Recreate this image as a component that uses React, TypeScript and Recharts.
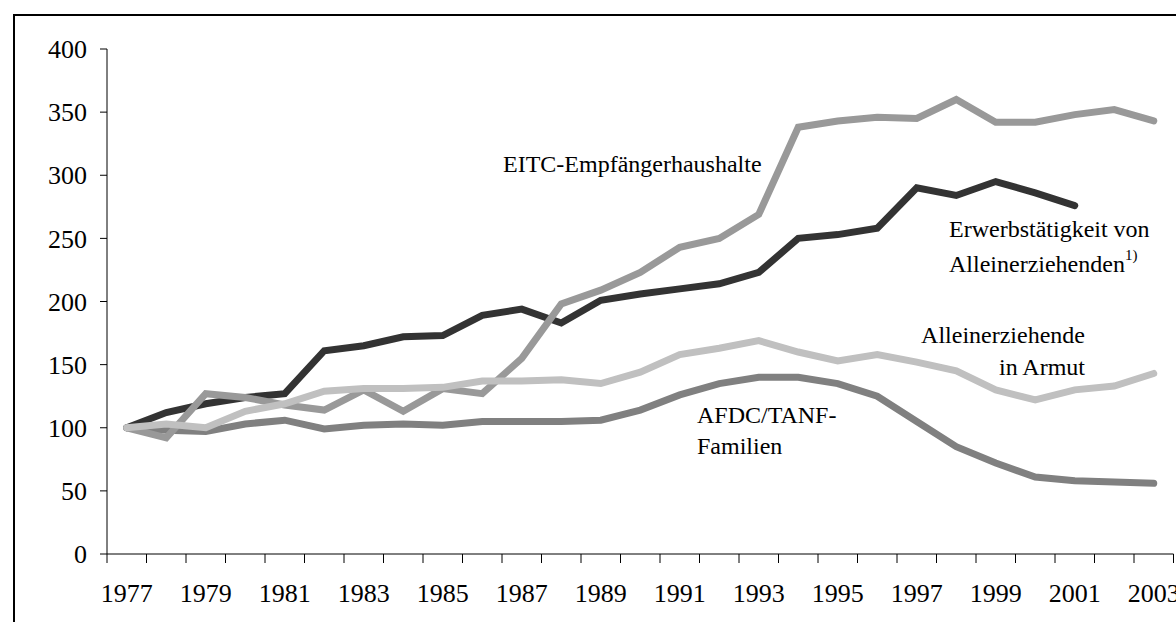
import React from 'react';
import { LineChart, Line, XAxis, YAxis } from 'recharts';

const years = [1977, 1978, 1979, 1980, 1981, 1982, 1983, 1984, 1985, 1986, 1987, 1988, 1989, 1990, 1991, 1992, 1993, 1994, 1995, 1996, 1997, 1998, 1999, 2000, 2001, 2002, 2003];
const eitc = [100, 92, 127, 124, 118, 114, 130, 113, 131, 127, 155, 198, 209, 223, 243, 250, 269, 338, 343, 346, 345, 360, 342, 342, 348, 352, 343];
const erwerb: (number | null)[] = [100, 112, 119, 124, 127, 161, 165, 172, 173, 189, 194, 183, 201, 206, 210, 214, 223, 250, 253, 258, 290, 284, 295, 286, 276, null, null];
const armut = [100, 103, 100, 113, 119, 129, 131, 131, 132, 137, 137, 138, 135, 144, 158, 163, 169, 160, 153, 158, 152, 145, 130, 122, 130, 133, 143];
const afdc = [100, 98, 97, 103, 106, 99, 102, 103, 102, 105, 105, 105, 106, 114, 126, 135, 140, 140, 135, 125, 105, 85, 72, 61, 58, 57, 56];
const yTicks = [0, 50, 100, 150, 200, 250, 300, 350, 400];
const xLabelYears = [1977, 1979, 1981, 1983, 1985, 1987, 1989, 1991, 1993, 1995, 1997, 1999, 2001, 2003];

const data = years.map((year, i) => ({ year, eitc: eitc[i], erwerb: erwerb[i], armut: armut[i], afdc: afdc[i] }));
const boundaries = [...years.map((y) => y - 0.5), years[years.length - 1] + 0.5];
const xTicks = [...boundaries, ...xLabelYears].sort((a, b) => a - b);

const FONT = '"Liberation Serif", "Times New Roman", serif';

const XTick = (props: any) => {
  const { x, y, payload } = props;
  const v = payload.value as number;
  if (!Number.isInteger(v)) {
    return <line x1={x} x2={x} y1={y - 9} y2={y} stroke="#000" strokeWidth={1} />;
  }
  return (
    <text x={x} y={y + 30} dy="0.355em" textAnchor="middle" fontFamily={FONT} fontSize={26} fill="#000">
      {v}
    </text>
  );
};

const txt = { fontFamily: FONT, fontSize: 24, fill: '#000' } as const;

export default function App() {
  return (
    <div style={{ position: 'fixed', left: 0, top: 0, width: 1176, height: 622, overflow: 'hidden', background: '#fff' }}>
      <div style={{ position: 'absolute', left: 13, top: 14, width: 1400, height: 900, border: '2px solid #000', boxSizing: 'border-box' }} />
      <div style={{ position: 'absolute', left: 0, top: 0 }}>
        <LineChart width={1176} height={622} data={data} margin={{ top: 49, right: 2.5, bottom: 0, left: 0 }}>
          <XAxis
            dataKey="year"
            type="number"
            domain={[1976.5, 2003.5]}
            ticks={xTicks}
            interval={0}
            height={68}
            tickSize={9}
            tickMargin={0}
            tickLine={false}
            axisLine={{ stroke: '#000', strokeWidth: 1 }}
            tick={<XTick />}
            allowDataOverflow
          />
          <YAxis
            type="number"
            domain={[0, 400]}
            ticks={yTicks}
            interval={0}
            width={107}
            tickSize={7}
            tickMargin={13}
            axisLine={{ stroke: '#000', strokeWidth: 1 }}
            tickLine={{ stroke: '#000', strokeWidth: 1 }}
            tick={{ fill: '#000', fontSize: 26, fontFamily: FONT }}
          />
          <Line dataKey="afdc" stroke="#808080" strokeWidth={7} dot={false} isAnimationActive={false} strokeLinecap="round" />
          <Line dataKey="erwerb" stroke="#333333" strokeWidth={7} dot={false} isAnimationActive={false} strokeLinecap="round" />
          <Line dataKey="eitc" stroke="#999999" strokeWidth={7} dot={false} isAnimationActive={false} strokeLinecap="round" />
          <Line dataKey="armut" stroke="#c0c0c0" strokeWidth={7} dot={false} isAnimationActive={false} strokeLinecap="round" />
          <text x={503} y={172} {...txt}>EITC-Empfängerhaushalte</text>
          <text x={949} y={237} {...txt}>Erwerbstätigkeit von</text>
          <text x={949} y={272} {...txt}>
            Alleinerziehenden
            <tspan fontSize={15} dy={-12}>1)</tspan>
          </text>
          <text x={1085} y={343} textAnchor="end" {...txt}>Alleinerziehende</text>
          <text x={1085} y={375} textAnchor="end" {...txt}>in Armut</text>
          <text x={697} y={423} {...txt}>AFDC/TANF-</text>
          <text x={697} y={454} {...txt}>Familien</text>
        </LineChart>
      </div>
    </div>
  );
}
